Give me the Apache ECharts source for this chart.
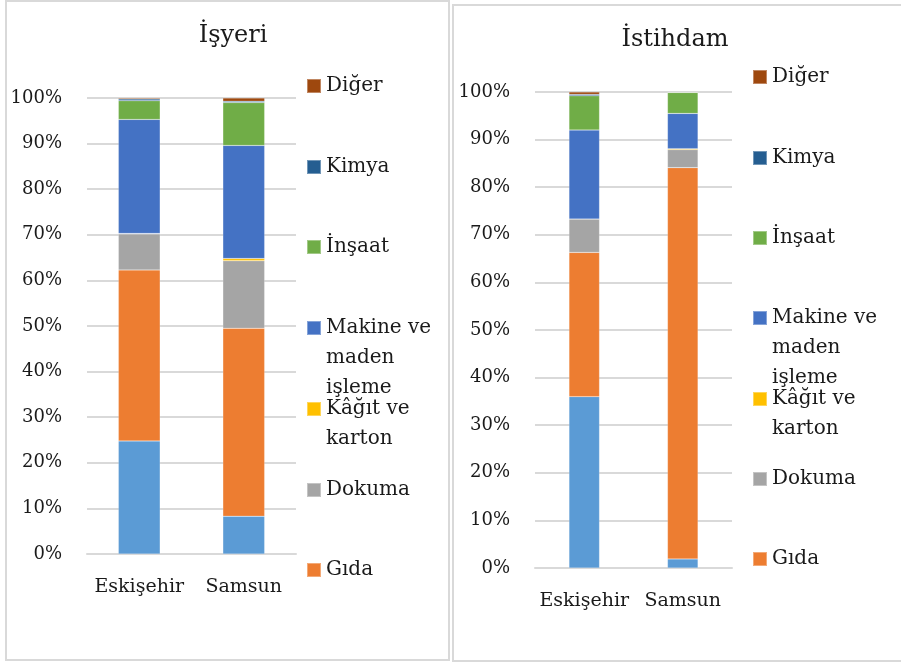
<!DOCTYPE html>
<html><head><meta charset="utf-8">
<script src="https://cdn.jsdelivr.net/npm/echarts@6/dist/echarts.min.js"></script>
<style>html,body{margin:0;padding:0;background:#fff}#c{width:901px;height:663px}</style>
</head><body><div id="c"></div>
<script>
// ---- data ----
const categories = ['Eskişehir', 'Samsun'];
const panelTitles = ['İşyeri', 'İstihdam'];
// stack order bottom -> top
const seriesNames = ['Seri 8', 'Gıda', 'Dokuma', 'Kâğıt ve karton', 'Makine ve maden işleme', 'İnşaat', 'Kimya', 'Diğer'];
const seriesColors = ['#5B9BD5', '#ED7D31', '#A5A5A5', '#FFC000', '#4472C4', '#70AD47', '#255E91', '#9E480E'];
// İşyeri (%), aligned with seriesNames
const isyeriEskisehir = [24.8, 37.5, 7.9, 0.1, 25.0, 4.1, 0.4, 0.2];
const isyeriSamsun    = [8.3, 41.2, 14.8, 0.5, 24.8, 9.4, 0.3, 0.7];
// İstihdam (%), aligned with seriesNames
const istihdamEskisehir = [36.0, 30.3, 7.0, 0.0, 18.7, 7.2, 0.3, 0.5];
const istihdamSamsun    = [1.9, 82.2, 3.8, 0.2, 7.4, 4.4, 0.0, 0.1];
// legend entries shown, top -> bottom
const legendOrder = ['Diğer', 'Kimya', 'İnşaat', 'Makine ve maden işleme', 'Kâğıt ve karton', 'Dokuma', 'Gıda'];
const legendText = {
  'Makine ve maden işleme': 'Makine ve\nmaden\nişleme',
  'Kâğıt ve karton': 'Kâğıt ve\nkarton'
};
const yTickStep = 10;

// ---- layout ----
const FONT = 'DejaVu Serif';
const TXT = '#1a1a1a';
const panels = [
  { grid: { left: 87, top: 98, width: 209, height: 456 }, titleX: 233, titleY: 24, barWidth: '40%',
    legendX: 306, legendY: [86, 167, 247, 328, 409, 490, 570],
    values: [isyeriEskisehir, isyeriSamsun] },
  { grid: { left: 535, top: 92, width: 197, height: 476 }, titleX: 675, titleY: 28, barWidth: '31%',
    legendX: 752, legendY: [77, 158, 238, 318, 399, 479, 559],
    values: [istihdamEskisehir, istihdamSamsun] }
];

const option = {
  animation: false,
  backgroundColor: '#fff',
  textStyle: { fontFamily: FONT },
  title: [], grid: [], xAxis: [], yAxis: [], series: [], legend: [],
  graphic: [
    { type: 'rect', shape: { x: 6, y: 1, width: 443, height: 659 }, style: { fill: 'none', stroke: '#d9d9d9', lineWidth: 2 }, silent: true },
    { type: 'rect', shape: { x: 453, y: 5, width: 460, height: 656 }, style: { fill: 'none', stroke: '#d9d9d9', lineWidth: 2 }, silent: true }
  ]
};

panels.forEach((p, pi) => {
  option.title.push({ text: panelTitles[pi], left: p.titleX, top: p.titleY, textAlign: 'center', padding: 0,
    textStyle: { fontFamily: FONT, fontSize: 24, fontWeight: 'normal', color: TXT } });
  option.grid.push(p.grid);
  option.xAxis.push({ type: 'category', data: categories, gridIndex: pi,
    axisLine: { lineStyle: { color: '#d9d9d9', width: 2 } }, axisTick: { show: false },
    axisLabel: { interval: 0, fontFamily: FONT, fontSize: 19, color: TXT, margin: 24 } });
  option.yAxis.push({ type: 'value', gridIndex: pi, min: 0, max: 100, interval: yTickStep,
    axisLine: { show: false }, axisTick: { show: false },
    splitLine: { lineStyle: { color: '#d9d9d9', width: 2 } },
    axisLabel: { formatter: '{value}%', fontFamily: FONT, fontSize: 18, color: TXT, margin: 25 } });
  seriesNames.forEach((name, si) => {
    option.series.push({ type: 'bar', name: name, stack: 'p' + pi, xAxisIndex: pi, yAxisIndex: pi,
      barWidth: p.barWidth, color: seriesColors[si],
      itemStyle: { color: seriesColors[si], borderColor: 'rgba(255,255,255,0.35)', borderWidth: 0.5 },
      data: p.values.map(v => v[si]) });
  });
  legendOrder.forEach((name, li) => {
    const txt = legendText[name] || name;
    const lines = txt.split('\n').length;
    const lh = 30;
    const shown = '\n'.repeat(lines - 1) + txt;   // first line centred on the marker
    const H = lh * (2 * lines - 1);
    option.legend.push({
      data: [name], left: p.legendX, top: p.legendY[li] - H / 2, orient: 'vertical', padding: 0,
      icon: 'rect', itemWidth: 14, itemHeight: 14, itemGap: 0,
      formatter: () => shown,
      textStyle: { fontFamily: FONT, fontSize: 20, color: TXT, lineHeight: lh }
    });
  });
});

const chart = echarts.init(document.getElementById('c'), null, { renderer: 'canvas' });
chart.setOption(option);
</script></body></html>
